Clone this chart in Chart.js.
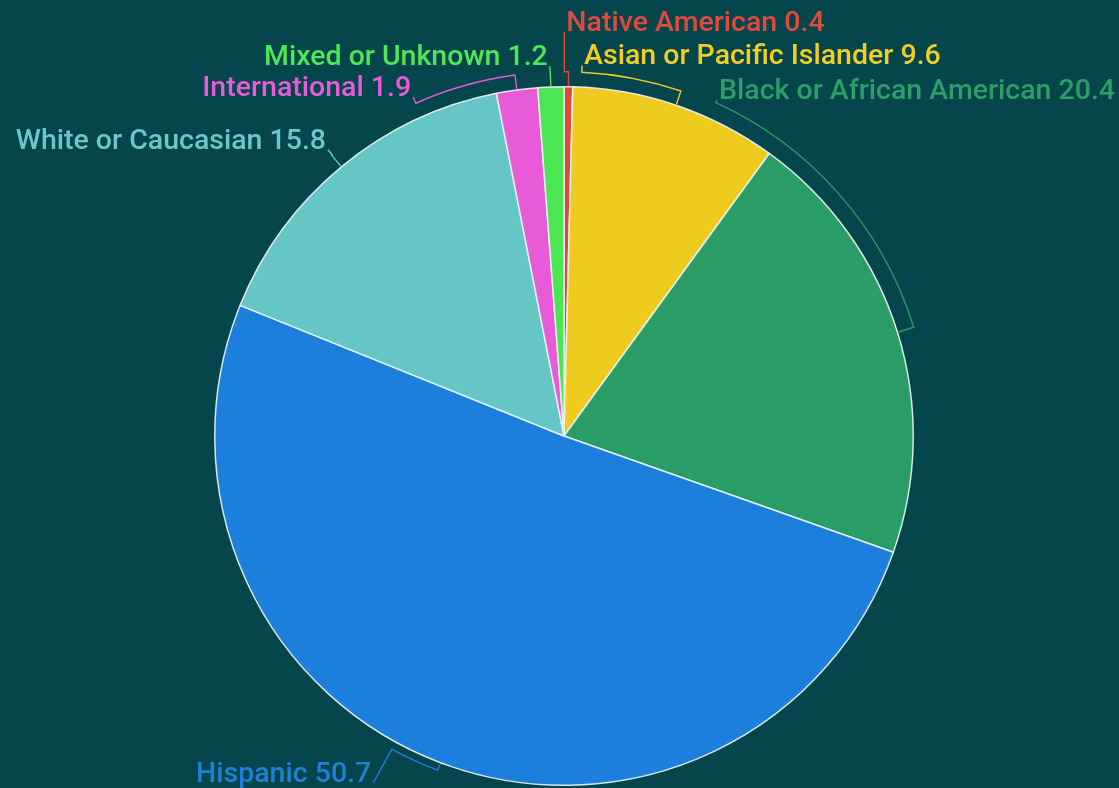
<!DOCTYPE html>
<html>
<head>
<meta charset="utf-8">
<script src="https://cdn.jsdelivr.net/npm/chart.js@4"></script>
<style>
    html, body { margin: 0; padding: 0; background: #04464b; }
    #wrap { width: 1119px; height: 788px; }
</style>
</head>
<body>
<div id="wrap"><canvas id="pie" width="1119" height="788"></canvas></div>
<script>
// --- data, clockwise from the top ---
const categories = ['Native American', 'Asian or Pacific Islander', 'Black or African American', 'Hispanic', 'White or Caucasian', 'International', 'Mixed or Unknown'];
const values = [0.4, 9.6, 20.4, 50.7, 15.8, 1.9, 1.2];
const sliceColors = ['#e1473b', '#f0cb1f', '#2a9c66', '#1b7fdb', '#66c6c6', '#e75ad8', '#4de653'];
const labelColors = ['#e2493e', '#f2cd23', '#2d9e69', '#1e80d8', '#6cc8c8', '#e75bd8', '#4fe658'];

// label anchor placement: angle (deg clockwise from top) and distance from centre
const labelAngles = [0.05, 2.8, 24.5, 208.8, -39.5, -24.0, -2.2];
const labelRadii = [404, 371, 369, 396, 371, 371, 370];
const bracketGaps = [15, 15, 17, 8, 15, 15, 15];

// --- leader lines + labels ---
const leaderLabels = {
    id: 'leaderLabels',
    afterDatasetsDraw(chart) {
        const ctx = chart.ctx;
        const arcs = chart.getDatasetMeta(0).data;
        ctx.save();
        ctx.font = '500 28.5px Roboto, "Noto Sans", sans-serif';
        ctx.lineWidth = 1.4;
        arcs.forEach((arc, i) => {
            const { x, y, startAngle, endAngle, outerRadius } = arc.getProps(['x', 'y', 'startAngle', 'endAngle', 'outerRadius'], true);
            const mid = (startAngle + endAngle) / 2;
            let la = (labelAngles[i] - 90) * Math.PI / 180;
            // take the short way round
            while (la - mid > Math.PI) la -= 2 * Math.PI;
            while (la - mid < -Math.PI) la += 2 * Math.PI;
            const rb = outerRadius + bracketGaps[i];
            const pt = (a, r) => [x + Math.cos(a) * r, y + Math.sin(a) * r];

            ctx.strokeStyle = sliceColors[i];
            ctx.beginPath();
            let p = pt(mid, outerRadius + 1);
            ctx.moveTo(p[0], p[1]);
            p = pt(mid, rb);
            ctx.lineTo(p[0], p[1]);
            ctx.arc(x, y, rb, mid, la, la < mid);
            const end = pt(la, labelRadii[i]);
            ctx.lineTo(end[0], end[1]);
            ctx.stroke();

            const onRight = end[0] >= x;
            ctx.fillStyle = labelColors[i];
            ctx.textAlign = onRight ? 'left' : 'right';
            ctx.textBaseline = 'alphabetic';
            const text = categories[i] + ' ' + values[i];
            ctx.fillText(text, end[0] + (onRight ? 2 : -2), end[1] - 1);
        });
        ctx.restore();
    }
};

new Chart(document.getElementById('pie'), {
    type: 'pie',
    data: {
        labels: categories,
        datasets: [{
            data: values,
            backgroundColor: sliceColors,
            borderColor: 'rgba(235, 245, 245, 0.9)',
            borderWidth: 1.5
        }]
    },
    options: {
        responsive: false,
        animation: false,
        layout: { padding: { left: 214, right: 205, top: 86, bottom: 2 } },
        plugins: {
            legend: { display: false },
            tooltip: { enabled: false }
        }
    },
    plugins: [leaderLabels]
});
</script>
</body>
</html>
